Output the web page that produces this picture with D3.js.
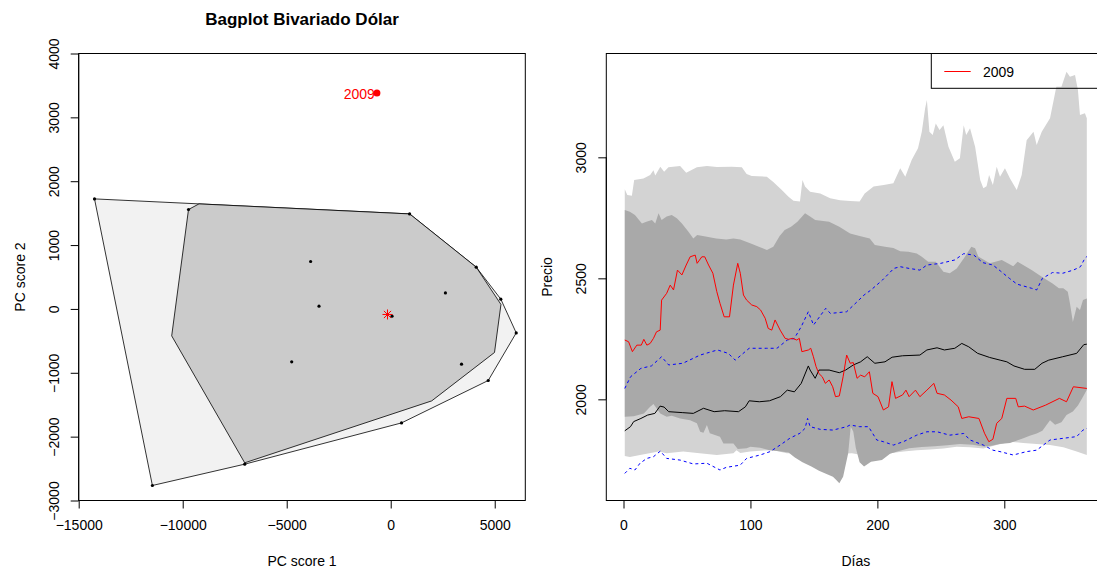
<!DOCTYPE html>
<html>
<head>
<meta charset="utf-8">
<script src="https://cdn.jsdelivr.net/npm/d3@7"></script>
<style>
  body { margin: 0; background: #fff; }
  svg { font-family: "Liberation Sans", Arial, sans-serif; display: block; }
</style>
</head>
<body>
<svg id="chart" width="1097" height="570"></svg>
<script>
// ---- left panel: bivariate bagplot of PC scores ----
const loopHull = [
  [-14240, 1723], [909, 1488], [4111, 654], [5293, 153], [6034, -375],
  [4688, -1121], [519, -1785], [-7019, -2431], [-11457, -2765],
];
const bagHull = [
  [-9721, 1557], [-9216, 1645], [909, 1488], [4111, 654], [5300, 70],
  [4990, -682], [1971, -1440], [-7019, -2410], [-10529, -422],
];
const scorePoints = [
  [-14240, 1723], [-9721, 1557], [909, 1488], [4111, 654], [5293, 153],
  [6034, -375], [4688, -1121], [519, -1785], [-7019, -2431], [-11457, -2765],
  [-3851, 743], [-3447, 43], [2630, 251], [-4760, -829], [3404, -865], [63, -114],
];
const medianPoint = [-154, -87];
const outlierPoint = [-663, 3383];
const outlierLabel = "2009";
const pcTicksX = [-15000, -10000, -5000, 0, 5000];
const pcTicksY = [-3000, -2000, -1000, 0, 1000, 2000, 3000, 4000];

// ---- right panel: functional bagplot, price by day ----
const lgUpper = [[1,2868],[3,2844],[6.6,2841],[8.4,2906],[15.7,2913],[21,2927],[23.6,2947],[25,2925],[29,2961],[32,2940],[35.4,2959],[44.6,2964],[49.4,2936],[57.8,2959],[65.7,2964],[73.6,2960],[85.3,2961],[93.2,2959],[97,2931],[101,2923],[112.9,2920],[118,2898],[124.7,2865],[130,2837],[133.9,2821],[139,2817],[141,2906],[143,2879],[147,2858],[155,2851],[162.8,2831],[170.6,2823],[178.5,2820],[186,2817],[190,2851],[197,2879],[205,2886],[212.6,2893],[218,2955],[222,2920],[227,2989],[232,3037],[235,3106],[237.6,3202],[239,3237],[241,3106],[243.6,3092],[246,3140],[249,3113],[252,3133],[256,3044],[261,2982],[265,2996],[268,3133],[270,3092],[273,3120],[277,3044],[281,2906],[283.5,2872],[286,2880],[288,2927],[291,2886],[294,2961],[296.6,2920],[300.5,2955],[304.5,2913],[309.8,2865],[313.7,2927],[317.6,3071],[323,3106],[325.5,3051],[329.5,3106],[336,3161],[341,3292],[345,3292],[349,3354],[351.7,3333],[355.7,3340],[358,3278],[359.6,3175],[363.5,3182],[365,3161]];
const lgLower = [[1,1766],[5,1762],[13,1770],[27.6,1784],[34,1777],[47,1784],[60,1777],[73.5,1770],[86.6,1777],[89,1790],[92,1778],[99.8,1784],[107.6,1788],[118,1790],[128.7,1777],[139,1777],[147,1775],[160,1778],[170,1775],[180,1777],[190,1768],[199.5,1760],[210,1777],[220.5,1784],[231,1790],[241.5,1793],[252,1797],[262.5,1804],[273,1802],[283.5,1797],[294,1811],[304.5,1825],[315,1820],[325.5,1815],[336,1811],[346.5,1802],[357,1784],[365,1770]];
const dgUpper = [[1,2782],[5,2775],[9,2762],[14.5,2727],[18,2734],[22.4,2741],[25,2727],[27.6,2769],[30,2741],[34,2755],[38,2762],[42,2748],[46,2727],[51,2693],[55,2665],[58,2679],[65.7,2672],[73,2665],[81,2660],[86.6,2665],[92,2660],[99.8,2645],[107.6,2628],[113,2617],[118,2630],[123,2675],[127,2700],[132,2713],[137,2734],[143,2769],[147,2755],[151,2741],[162,2734],[170,2713],[178.5,2685],[186,2675],[194,2665],[198,2638],[206,2631],[212.6,2625],[218,2612],[224.4,2610],[231,2603],[235,2589],[240,2569],[246,2569],[252,2527],[257,2521],[262.5,2541],[269,2589],[274,2631],[277,2624],[279.5,2590],[288.5,2562],[298,2576],[307,2550],[310.5,2569],[321.5,2534],[329.5,2507],[338,2479],[343,2459],[346.5,2459],[350,2445],[351.7,2397],[354,2320],[357,2383],[359.6,2369],[362,2410],[365,2417]];
const dgLower = [[1,1928],[8,1930],[16,1942],[21,1969],[23.6,1981],[26,1963],[29,1942],[34,1928],[38,1932],[44.6,1921],[52.5,1914],[57.8,1901],[60.4,1866],[63,1862],[65.7,1894],[68,1860],[76,1845],[78.7,1818],[86.6,1818],[90,1795],[97,1798],[100,1804],[107.6,1800],[115,1790],[123,1785],[130,1780],[135,1760],[141,1740],[148,1722],[154,1705],[159,1694],[165,1680],[168,1665],[170,1653],[173,1680],[177,1777],[179,1887],[181,1867],[183,1800],[186,1740],[189.5,1722],[195,1742],[203.6,1749],[210,1775],[217,1787],[225,1798],[235,1803],[245,1806],[255,1810],[265,1815],[275,1812],[283.5,1805],[290,1808],[296,1815],[304.5,1820],[310,1830],[315,1839],[320,1850],[325.5,1859],[330,1870],[336,1914],[340,1895],[345,1905],[349,1935],[354,1950],[358,1975],[362,2011],[365,2040]];
const median = [[1,1870],[5.5,1887],[8,1908],[13.7,1921],[19,1935],[24.7,1942],[28.8,1972],[32,1968],[35.6,1949],[46.7,1945],[55,1942],[63,1963],[71.4,1949],[79.7,1953],[90.6,1949],[96,1969],[99,1994],[107,1990],[115,1994],[123.6,2011],[129,2038],[134.6,2031],[140,2066],[145.6,2138],[147,2121],[151,2087],[154,2121],[162,2121],[170,2110],[175,2121],[181,2142],[186.8,2155],[192,2176],[198,2149],[206,2155],[211.6,2174],[219.8,2180],[233.5,2183],[239,2204],[247,2213],[252.8,2204],[261,2211],[266.5,2231],[272,2217],[279,2190],[288.5,2173],[296.7,2162],[302,2155],[307.6,2138],[316,2124],[324,2124],[329.7,2149],[335,2162],[346,2176],[357,2190],[362.6,2226],[365,2228]];
const red2009 = [[1,2245],[4,2238],[7,2197],[10.5,2224],[14,2224],[16,2248],[18.4,2224],[21,2231],[23.6,2252],[26,2279],[28.9,2286],[30,2410],[34,2438],[36.8,2472],[39.4,2452],[42.5,2534],[46,2514],[49.4,2555],[52.5,2589],[56.5,2596],[58,2562],[61.7,2589],[64,2589],[67,2555],[70.4,2521],[73.5,2445],[76,2397],[79.3,2341],[83.5,2341],[86.6,2472],[90,2562],[92,2521],[94.5,2431],[97,2410],[101,2390],[105,2383],[108,2369],[111.6,2335],[114,2293],[116.8,2286],[119.4,2328],[123.4,2286],[127.3,2252],[130,2248],[133,2252],[136.5,2245],[138.5,2252],[140.5,2197],[145.7,2204],[147.5,2211],[149.6,2176],[151.7,2135],[153.9,2107],[156.6,2093],[159,2066],[162,2080],[164.8,2052],[167,2011],[170,2014],[173,2093],[175.8,2183],[178.6,2149],[181,2152],[184,2087],[186.8,2100],[190,2093],[193.7,2114],[196.4,2025],[200.5,2011],[204.7,1956],[208.8,1969],[211.5,2073],[214.3,2004],[219.8,2018],[222.5,2038],[225,2011],[230,2038],[233.5,2011],[239,2038],[244.5,2066],[247,2025],[252.8,2018],[258,1997],[263.7,1969],[266.5,1921],[272,1928],[280,1921],[284.4,1860],[287.8,1825],[291,1835],[294,1901],[298,1921],[302,2004],[309,2004],[311,1969],[316,1972],[322.8,1956],[332.5,1976],[343.4,2004],[349,1990],[354.4,2052],[365,2045]];
const blueUpper = [[1,2045],[5.5,2093],[13.7,2128],[22,2138],[30,2176],[35.6,2142],[46.7,2149],[60.4,2183],[74,2204],[82.5,2190],[88,2162],[99,2211],[112.6,2211],[120.9,2211],[129,2245],[134.6,2252],[140,2300],[145.6,2362],[149.7,2307],[159.3,2376],[163,2355],[175.8,2362],[184,2403],[189.5,2431],[195,2452],[204,2493],[213,2541],[218,2548],[225,2541],[233.5,2534],[239,2555],[250,2562],[261,2576],[268,2602],[276,2596],[283,2565],[291,2555],[297,2530],[304,2500],[310,2476],[321.4,2459],[325.5,2452],[330,2500],[338,2524],[346,2521],[354.4,2534],[360,2548],[363.5,2583],[365,2590]];
const blueLower = [[1,1694],[5,1715],[9,1708],[13,1736],[18.4,1756],[23.6,1763],[29,1786],[34,1756],[44.6,1749],[55,1733],[65.7,1736],[76,1708],[81,1719],[91.9,1728],[97,1756],[107.6,1770],[115.5,1784],[123.4,1811],[131,1839],[139,1860],[143,1880],[145,1921],[147,1887],[155,1876],[165,1873],[175.9,1887],[178.5,1894],[186,1887],[193,1887],[199.5,1832],[204.7,1825],[212.6,1811],[220.5,1825],[231,1852],[239,1866],[247,1866],[257,1852],[268,1859],[273,1832],[283.5,1811],[291,1790],[296.6,1784],[307,1770],[317.6,1784],[325.5,1790],[336,1832],[346.5,1839],[357,1846],[362,1873],[365,1880]];
const dayTicks = [0, 100, 200, 300];
const priceTicks = [2000, 2500, 3000];
const legendLabel = "2009";

const svg = d3.select("#chart");
const plotTop = 53.5, plotBottom = 500.5;

function rAxes(g, x, y, xTicks, yTicks) {
  // R style: axis line from first to last tick, ticks outward, rotated y labels
  const xa = g.append("g").attr("transform", `translate(0,${plotBottom})`)
    .call(d3.axisBottom(x).tickValues(xTicks).tickSize(8).tickSizeOuter(0).tickPadding(12).tickFormat(d3.format("d")));
  xa.select(".domain").attr("d", `M${x(xTicks[0])},0H${x(xTicks[xTicks.length - 1])}`);
  xa.selectAll("text").style("font-size", "14px").attr("fill", "#000");

  const ya = g.append("g").attr("transform", `translate(${x.range()[0]},0)`)
    .call(d3.axisLeft(y).tickValues(yTicks).tickSize(8).tickSizeOuter(0).tickFormat(d3.format("d")));
  ya.select(".domain").attr("d", `M0,${y(yTicks[0])}V${y(yTicks[yTicks.length - 1])}`);
  ya.selectAll("text")
    .style("font-size", "14px")
    .attr("fill", "#000")
    .attr("x", null).attr("dy", null)
    .attr("text-anchor", "middle")
    .attr("transform", "translate(-20,0) rotate(-90)");
  g.selectAll(".domain, .tick line").attr("stroke", "#000");

  // box
  g.append("rect")
    .attr("x", x.range()[0]).attr("y", plotTop)
    .attr("width", x.range()[1] - x.range()[0]).attr("height", plotBottom - plotTop)
    .attr("fill", "none").attr("stroke", "#000");
}

// ---------- left panel ----------
const xl = d3.scaleLinear().domain([-15000, 6470]).range([78.7, 525.3]);
const yl = d3.scaleLinear().domain([-3000, 4000]).range([plotBottom, plotTop]);
const left = svg.append("g");
const poly = d3.line().x((d) => xl(d[0])).y((d) => yl(d[1]));

left.append("path")
  .attr("d", poly(loopHull) + "Z")
  .attr("fill", "#f2f2f2").attr("stroke", "#000").attr("stroke-width", 0.8);
left.append("path")
  .attr("d", poly(bagHull) + "Z")
  .attr("fill", "#cbcbcb").attr("stroke", "#000").attr("stroke-width", 0.8);

left.selectAll("circle.pt")
  .data(scorePoints)
  .enter()
  .append("circle")
  .attr("class", "pt")
  .attr("cx", (d) => xl(d[0])).attr("cy", (d) => yl(d[1]))
  .attr("r", 1.6).attr("fill", "#000");

// median as R pch 8 asterisk
const mx = xl(medianPoint[0]), my = yl(medianPoint[1]);
const s = 5, sd = 3.6;
left.append("path")
  .attr("d", `M${mx - s},${my}H${mx + s}M${mx},${my - s}V${my + s}` +
    `M${mx - sd},${my - sd}L${mx + sd},${my + sd}M${mx - sd},${my + sd}L${mx + sd},${my - sd}`)
  .attr("stroke", "red").attr("stroke-width", 1).attr("fill", "none");

left.append("circle")
  .attr("cx", xl(outlierPoint[0])).attr("cy", yl(outlierPoint[1]))
  .attr("r", 3.5).attr("fill", "red");
left.append("text")
  .attr("x", xl(outlierPoint[0]) - 2).attr("y", yl(outlierPoint[1]) + 6.5)
  .attr("text-anchor", "end").attr("fill", "red")
  .style("font-size", "14px")
  .text(outlierLabel);

rAxes(left, xl, yl, pcTicksX, pcTicksY);

svg.append("text")
  .attr("x", 302).attr("y", 25)
  .attr("text-anchor", "middle")
  .style("font-size", "17px").style("font-weight", "bold")
  .text("Bagplot Bivariado Dólar");
svg.append("text")
  .attr("x", 302).attr("y", 566)
  .attr("text-anchor", "middle").style("font-size", "14px")
  .text("PC score 1");
svg.append("text")
  .attr("transform", `translate(25,${(plotTop + plotBottom) / 2}) rotate(-90)`)
  .attr("text-anchor", "middle").style("font-size", "14px")
  .text("PC score 2");

// ---------- right panel ----------
const xr = d3.scaleLinear().domain([-13.56, 379.56]).range([606.3, 1105.3]);
const yr = d3.scaleLinear().domain([1582, 3429]).range([plotBottom, plotTop]);
const right = svg.append("g");
const line = d3.line().x((d) => xr(d[0])).y((d) => yr(d[1]));

right.append("path")
  .attr("d", line(lgUpper.concat(lgLower.slice().reverse())) + "Z")
  .attr("fill", "#d3d3d3");
right.append("path")
  .attr("d", line(dgUpper.concat(dgLower.slice().reverse())) + "Z")
  .attr("fill", "#a9a9a9");

[blueUpper, blueLower].forEach((series) => {
  right.append("path")
    .attr("d", line(series))
    .attr("fill", "none").attr("stroke", "blue")
    .attr("stroke-width", 1).attr("stroke-dasharray", "3,3");
});

right.append("path")
  .attr("d", line(median))
  .attr("fill", "none").attr("stroke", "#000").attr("stroke-width", 1);
right.append("path")
  .attr("d", line(red2009))
  .attr("fill", "none").attr("stroke", "red").attr("stroke-width", 1);

rAxes(right, xr, yr, dayTicks, priceTicks);

// legend (top right, no fill, runs off the page like the original)
const lg = right.append("g");
lg.append("rect")
  .attr("x", 931.3).attr("y", plotTop)
  .attr("width", 1105.3 - 931.3).attr("height", 88.3 - plotTop)
  .attr("fill", "none").attr("stroke", "#000");
lg.append("line")
  .attr("x1", 944.3).attr("x2", 970.7).attr("y1", 71.5).attr("y2", 71.5)
  .attr("stroke", "red");
lg.append("text")
  .attr("x", 983).attr("y", 76.5).style("font-size", "14px")
  .text(legendLabel);

svg.append("text")
  .attr("x", 855.8).attr("y", 566)
  .attr("text-anchor", "middle").style("font-size", "14px")
  .text("Días");
svg.append("text")
  .attr("transform", `translate(552,${(plotTop + plotBottom) / 2}) rotate(-90)`)
  .attr("text-anchor", "middle").style("font-size", "14px")
  .text("Precio");
</script>
</body>
</html>
